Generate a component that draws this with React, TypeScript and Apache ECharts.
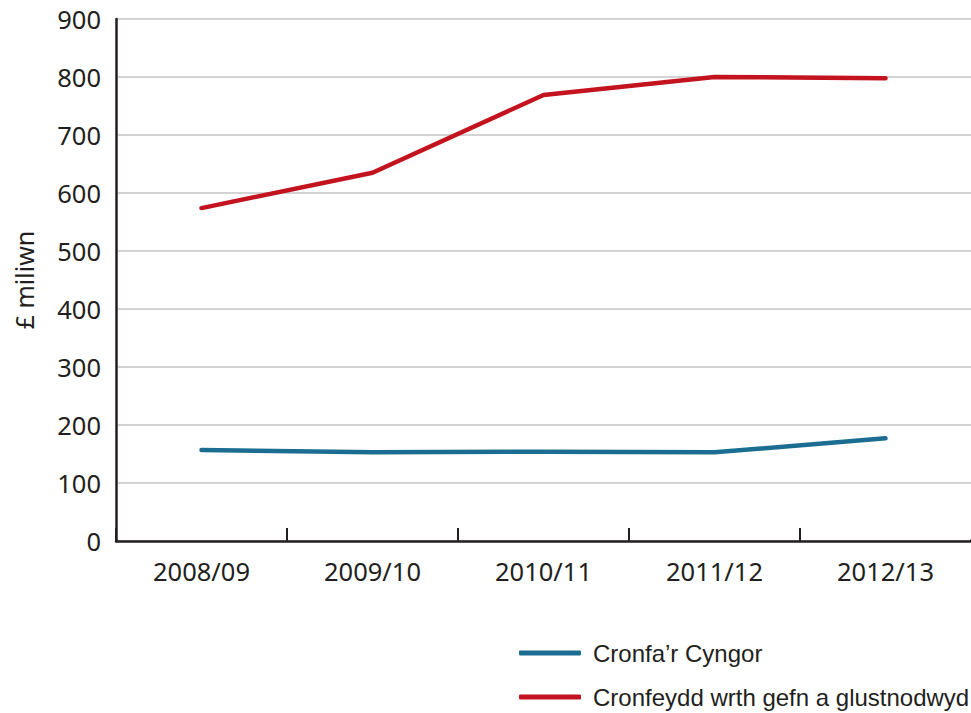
import React, { useEffect, useRef } from "react";
import * as echarts from "echarts";

const categories = ["2008/09", "2009/10", "2010/11", "2011/12", "2012/13"];
const councilFund = [157, 153, 154, 153, 177];
const reservesFund = [574, 635, 769, 800, 798];
const seriesNames = ["Cronfa’r Cyngor", "Cronfeydd wrth gefn a glustnodwyd"];
const yTicks = { min: 0, max: 900, interval: 100 };

export default function App() {
  const ref = useRef<HTMLDivElement>(null);
  useEffect(() => {
    const chart = echarts.init(ref.current!, null, { renderer: "svg" });
    chart.setOption({
      animation: false,
      backgroundColor: "#ffffff",
      grid: { left: 116, right: 0, top: 19, bottom: 172, containLabel: false },
      graphic: [
        {
          type: "rect",
          z: 100,
          shape: { x: 963, y: 522, width: 10, height: 17.5 },
          style: { fill: "#ffffff" },
        },
      ],
      legend: {
        orient: "vertical",
        left: 519,
        top: 641,
        itemGap: 20,
        itemWidth: 62,
        itemHeight: 5,
        icon: "roundRect",
        padding: 0,
        textStyle: {
          fontFamily: "Liberation Sans, Arial, sans-serif",
          fontSize: 24,
          color: "#231f20",
          padding: [0, 0, 0, 7],
        },
        data: seriesNames,
      },
      xAxis: {
        type: "category",
        data: categories,
        boundaryGap: true,
        axisLine: { show: true, lineStyle: { color: "#231f20", width: 2.5 } },
        axisTick: { show: true, inside: true, length: 13, lineStyle: { color: "#231f20", width: 2 } },
        axisLabel: {
          fontFamily: "Noto Sans, sans-serif",
          fontSize: 25.5,
          color: "#231f20",
          margin: 17,
        },
        splitLine: { show: false },
      },
      yAxis: {
        type: "value",
        min: yTicks.min,
        max: yTicks.max,
        interval: yTicks.interval,
        name: "£ miliwn",
        nameLocation: "middle",
        nameGap: 80,
        nameRotate: 90,
        nameTextStyle: { fontFamily: "Noto Sans, sans-serif", fontSize: 25, color: "#231f20" },
        axisLine: { show: true, lineStyle: { color: "#231f20", width: 2.5 } },
        axisTick: { show: false },
        axisLabel: {
          fontFamily: "Noto Sans, sans-serif",
          fontSize: 25.5,
          color: "#231f20",
          margin: 15,
        },
        splitLine: { show: true, lineStyle: { color: "#c4c4c4", width: 1.5 } },
      },
      series: [
        {
          name: seriesNames[0],
          type: "line",
          data: councilFund,
          symbol: "none",
          color: "#1b6e92",
          lineStyle: { color: "#1b6e92", width: 4.5, cap: "round", join: "round" },
        },
        {
          name: seriesNames[1],
          type: "line",
          data: reservesFund,
          symbol: "none",
          color: "#c2131f",
          lineStyle: { color: "#c2131f", width: 4.5, cap: "round", join: "round" },
        },
      ],
    });
    return () => chart.dispose();
  }, []);
  return <div ref={ref} style={{ width: 971, height: 713, position: "absolute", left: 0, top: 0 }} />;
}
